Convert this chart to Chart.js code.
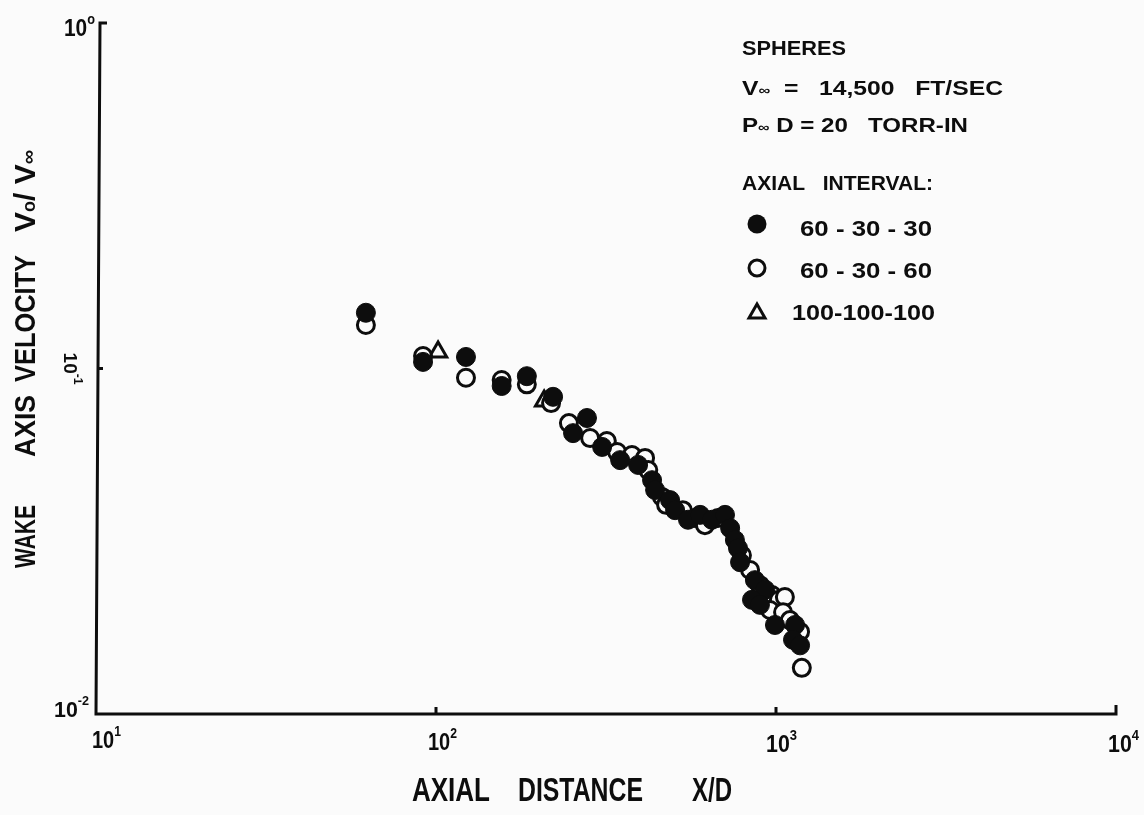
<!DOCTYPE html>
<html>
<head>
<meta charset="utf-8">
<script src="https://cdn.jsdelivr.net/npm/chart.js@4/dist/chart.umd.min.js"></script>
<style>
html,body{margin:0;padding:0;background:#fbfbfb;}
canvas{display:block;}
</style>
</head>
<body>
<canvas id="c" width="1144" height="815"></canvas>
<script>
// ---- data ----
const seriesNames = ['60 - 30 - 30', '60 - 30 - 60', '100-100-100'];
const filledX = [62.2, 91.6, 122.5, 156, 185, 221, 278, 253, 308, 348, 393, 432, 441, 488, 505, 551, 598, 648, 708, 733, 757, 773, 784, 867, 929, 850, 897, 1138, 993, 1122, 1177];
const filledY = [0.145, 0.1045, 0.108, 0.089, 0.095, 0.0828, 0.0719, 0.065, 0.0593, 0.0543, 0.0526, 0.0475, 0.0445, 0.0416, 0.0389, 0.0365, 0.0377, 0.0365, 0.0377, 0.0345, 0.0319, 0.0302, 0.0275, 0.0244, 0.0229, 0.0214, 0.0207, 0.0181, 0.0181, 0.0164, 0.0158];
const openX = [62.2, 91.6, 122.5, 156, 185, 218, 246, 284, 318, 341, 377, 412, 421, 462, 475, 532, 578, 618, 675, 794, 839, 897, 973, 1020, 1062, 960, 1049, 1099, 1177, 1191];
const openY = [0.1336, 0.1087, 0.094, 0.0926, 0.090, 0.0794, 0.0695, 0.0629, 0.0617, 0.0573, 0.0562, 0.0551, 0.0508, 0.0425, 0.0403, 0.0389, 0.0369, 0.0352, 0.0369, 0.0288, 0.0261, 0.0236, 0.0221, 0.0214, 0.0218, 0.0200, 0.0197, 0.0187, 0.0173, 0.0136];
const triX = [101.4, 208];
const triY = [0.1116, 0.0805];
const xTicks = [10, 100, 1000, 10000];
const xTickExp = ['1', '2', '3', '4'];
const yTicks = [1, 0.1, 0.01];
const yTickExp = ['o', '-1', '-2'];

const FONT = '"Liberation Sans", "DejaVu Sans", sans-serif';
const INK = '#0d0d0d';

function zip(xs, ys){ return xs.map((x,i)=>({x:x, y:ys[i]})); }

function drawRich(ctx, parts, x, y, w, rot){
  ctx.save();
  let total = 0;
  parts.forEach(p=>{ ctx.font = 'bold ' + p.s + 'px ' + FONT; p.w = ctx.measureText(p.t).width; total += p.w; });
  const k = w ? w/total : 1;
  ctx.translate(x, y);
  if (rot) ctx.rotate(rot);
  ctx.scale(k, 1);
  ctx.fillStyle = INK;
  ctx.textBaseline = 'alphabetic';
  ctx.textAlign = 'left';
  let cx = 0;
  parts.forEach(p=>{ ctx.font = 'bold ' + p.s + 'px ' + FONT; ctx.fillText(p.t, cx, p.dy||0); cx += p.w; });
  ctx.restore();
}

const decor = {
  id: 'decor',
  afterDraw(chart){
    const ctx = chart.ctx;
    const xs = chart.scales.x, ys = chart.scales.y;
    const L = xs.getPixelForValue(xTicks[0]);
    const R = xs.getPixelForValue(xTicks[3]);
    const T = ys.getPixelForValue(yTicks[0]);
    const B = ys.getPixelForValue(yTicks[2]);
    ctx.save();
    ctx.strokeStyle = INK; ctx.lineWidth = 3; ctx.lineCap = 'butt';
    // axes
    ctx.beginPath();
    ctx.moveTo(L + 11, T); ctx.lineTo(L + 4, T); ctx.lineTo(L, B); ctx.lineTo(R, B); ctx.lineTo(R, B - 9);
    ctx.stroke();
    // minor decade ticks
    ctx.beginPath();
    const y1 = ys.getPixelForValue(yTicks[1]);
    ctx.moveTo(L + 2, y1); ctx.lineTo(L + 7, y1);
    [xTicks[1], xTicks[2]].forEach(v=>{ const px = xs.getPixelForValue(v); ctx.moveTo(px, B); ctx.lineTo(px, B - 7); });
    ctx.stroke();
    ctx.restore();

    // x tick labels
    const xOff = [[-4, 34, 22], [-8, 36, 22], [-10, 38, 24], [-8, 38, 24]];
    xTicks.forEach((v,i)=>{
      const px = xs.getPixelForValue(v);
      drawRich(ctx, [{t:'10', s:23}, {t:xTickExp[i], s:14, dy:-12}], px + xOff[i][0], B + xOff[i][1], xOff[i][2] + 7);
    });
    // y tick labels
    drawRich(ctx, [{t:'10', s:23}, {t:yTickExp[0], s:14, dy:-12}], 64, T + 13, 31);
    drawRich(ctx, [{t:'10', s:22}, {t:yTickExp[2], s:13, dy:-12}], 54, B + 3, 35);
    drawRich(ctx, [{t:'10', s:19}, {t:yTickExp[1], s:12, dy:-10}], 64, y1 - 16, 32, Math.PI/2);

    // axis titles
    drawRich(ctx, [{t:'AXIAL', s:33}], 412, 801, 78);
    drawRich(ctx, [{t:'DISTANCE', s:33}], 518, 801, 125);
    drawRich(ctx, [{t:'X/D', s:33}], 692, 801, 40);
    const rot = -Math.PI/2;
    drawRich(ctx, [{t:'WAKE', s:30}], 35, 568, 63, rot);
    drawRich(ctx, [{t:'AXIS', s:30}], 35, 457, 62, rot);
    drawRich(ctx, [{t:'VELOCITY', s:30}], 35, 382, 127, rot);
    drawRich(ctx, [{t:'V', s:30}, {t:'o', s:18}, {t:'/ V', s:30}, {t:'\u221E', s:20}], 35, 232, 82, rot);

    // annotation block
    drawRich(ctx, [{t:'SPHERES', s:21}], 742, 55, 104);
    drawRich(ctx, [{t:'V', s:21}, {t:'\u221E', s:14}, {t:'  =   14,500   FT/SEC', s:21}], 742, 95, 261);
    drawRich(ctx, [{t:'P', s:21}, {t:'\u221E', s:14}, {t:' D = 20   TORR-IN', s:21}], 742, 132, 226);
    drawRich(ctx, [{t:'AXIAL   INTERVAL:', s:21}], 742, 190, 191);
    drawRich(ctx, [{t:seriesNames[0], s:22}], 800, 236, 132);
    drawRich(ctx, [{t:seriesNames[1], s:22}], 800, 278, 132);
    drawRich(ctx, [{t:seriesNames[2], s:22}], 792, 320, 143);

    // legend markers
    ctx.save();
    ctx.lineWidth = 3; ctx.strokeStyle = INK;
    ctx.fillStyle = INK;
    ctx.beginPath(); ctx.arc(757, 224, 9.5, 0, Math.PI*2); ctx.fill();
    ctx.fillStyle = '#fbfbfb';
    ctx.beginPath(); ctx.arc(757, 268, 8, 0, Math.PI*2); ctx.fill(); ctx.stroke();
    ctx.beginPath(); ctx.moveTo(757, 304); ctx.lineTo(765, 318); ctx.lineTo(749, 318); ctx.closePath(); ctx.stroke();
    ctx.restore();
  }
};

new Chart(document.getElementById('c'), {
  type: 'scatter',
  data: {
    datasets: [
      { label: seriesNames[0], data: zip(filledX, filledY), pointStyle: 'circle', pointRadius: 9.5, backgroundColor: INK, borderColor: INK, borderWidth: 1 },
      { label: seriesNames[1], data: zip(openX, openY), pointStyle: 'circle', pointRadius: 8.5, backgroundColor: '#fbfbfb', borderColor: INK, borderWidth: 3 },
      { label: seriesNames[2], data: zip(triX, triY), pointStyle: 'triangle', pointRadius: 10, backgroundColor: 'rgba(0,0,0,0)', borderColor: INK, borderWidth: 3 }
    ]
  },
  options: {
    responsive: false,
    animation: false,
    devicePixelRatio: 1,
    layout: { padding: { left: 96, top: 23, right: 28, bottom: 101 } },
    plugins: { legend: { display: false }, tooltip: { enabled: false } },
    scales: {
      x: { type: 'logarithmic', min: 10, max: 10000, display: false },
      y: { type: 'logarithmic', min: 0.01, max: 1, display: false }
    },
    elements: { point: { hoverRadius: 9 } }
  },
  plugins: [decor]
});
</script>
</body>
</html>
